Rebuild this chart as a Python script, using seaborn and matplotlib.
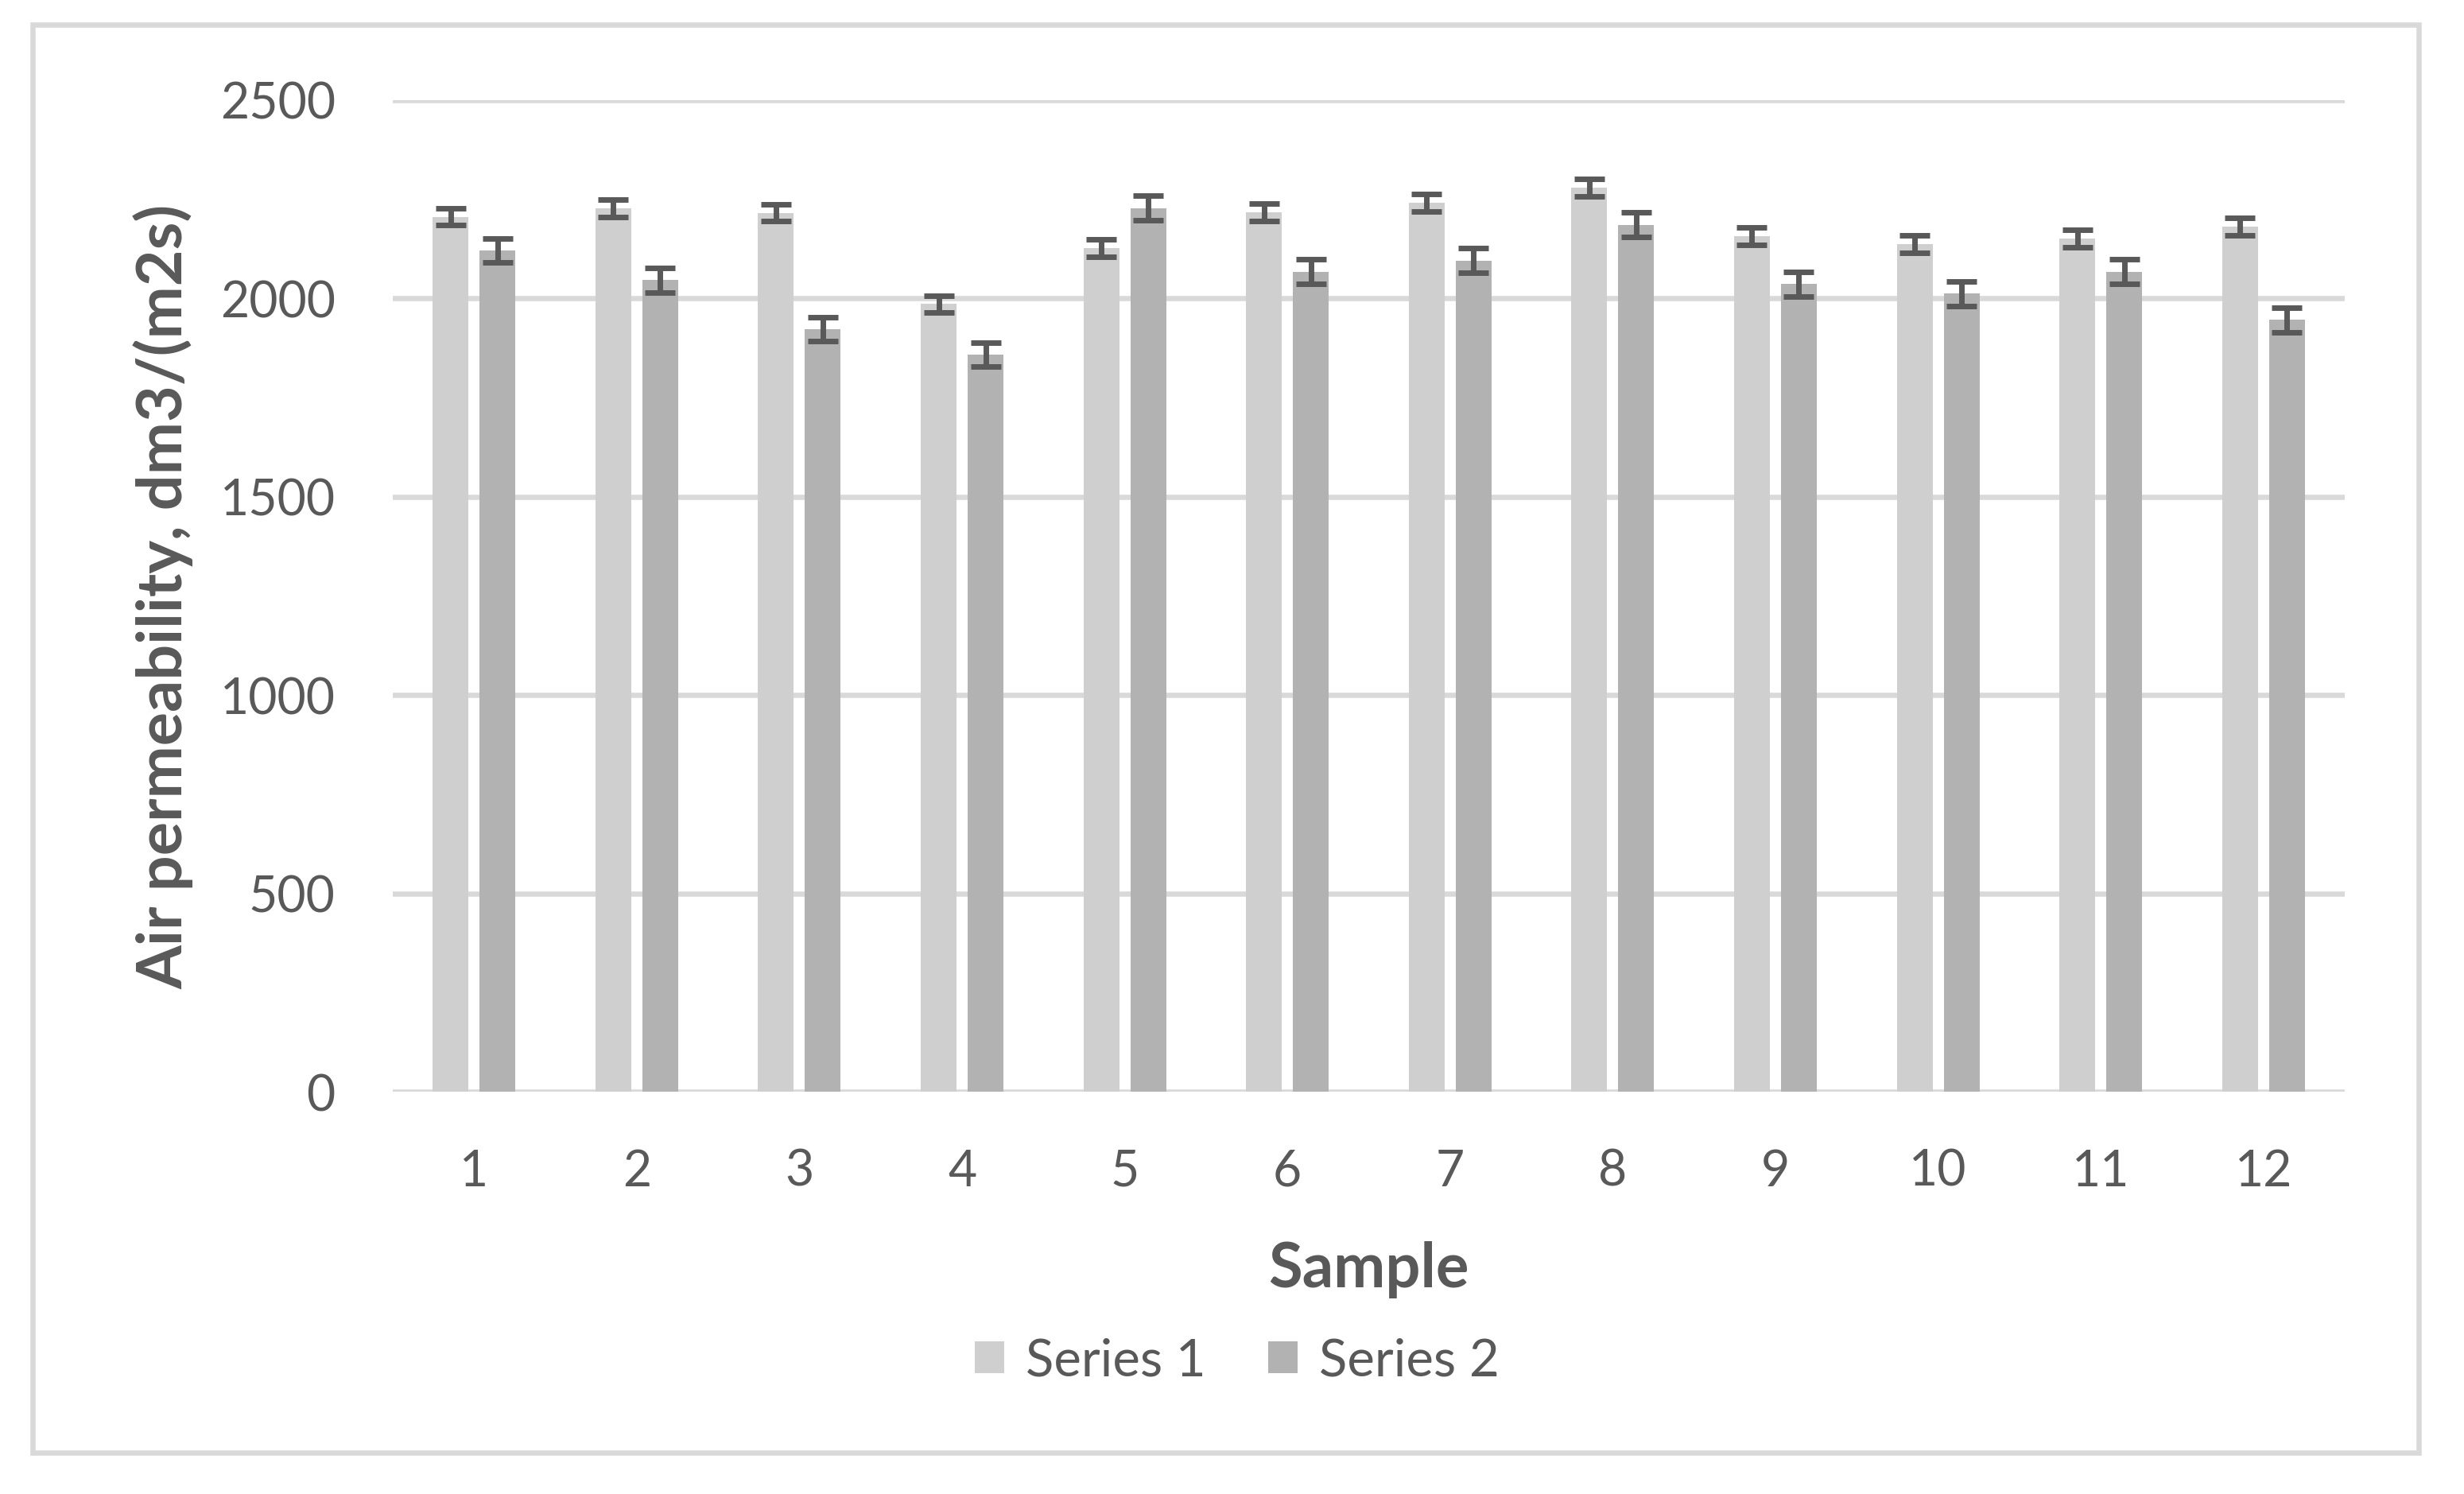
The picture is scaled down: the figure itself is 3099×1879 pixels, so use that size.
import matplotlib
matplotlib.use("Agg")
import matplotlib.pyplot as plt
import matplotlib.patches as mpatches
import numpy as np
import pandas as pd
import seaborn as sns

# Data
samples = [str(i) for i in range(1, 13)]
series_names = ["Series 1", "Series 2"]
series1 = [2206, 2228, 2216, 1986, 2128, 2218, 2242, 2279, 2158, 2138, 2152, 2182]
series2 = [2122, 2046, 1922, 1858, 2228, 2068, 2096, 2186, 2036, 2012, 2068, 1946]
err1 = [21, 22, 21, 21, 22, 22, 22, 22, 22, 22, 22, 22]
err2 = [30, 31, 30, 30, 31, 31, 31, 31, 31, 31, 31, 31]

# Long table for seaborn
df = pd.DataFrame({
    "Sample": samples * 2,
    "Value": series1 + series2,
    "Series": [series_names[0]] * len(samples) + [series_names[1]] * len(samples),
})

TEXT = "#595959"
GRID = "#D9D9D9"
COLORS = ["#D0CFD0", "#B2B2B2"]

sns.set_style("white")
plt.rcParams["font.family"] = ["Lato", "DejaVu Sans"]

fig = plt.figure(figsize=(30.99, 18.795), dpi=100)
ax = fig.add_axes([0.1594, 0.2691, 0.7922, 0.6636])

sns.barplot(data=df, x="Sample", y="Value", hue="Series", palette=COLORS,
            width=0.577, gap=0.237, errorbar=None, saturation=1,
            linewidth=0, ax=ax, zorder=2)

# Custom error bars on top of each bar
for container, errs in zip(ax.containers, [err1, err2]):
    xs = [p.get_x() + p.get_width() / 2 for p in container.patches]
    hs = [p.get_height() for p in container.patches]
    ax.errorbar(xs, hs, yerr=errs, fmt="none", ecolor=TEXT,
                elinewidth=5, capsize=14, capthick=5, zorder=3)

ax.set_ylim(0, 2500)
ax.set_xlim(-0.5, 11.5)
ax.set_yticks(np.arange(0, 2501, 500))
ax.yaxis.grid(True, color=GRID, linewidth=4.7)
ax.set_axisbelow(True)
for s in ax.spines.values():
    s.set_visible(False)
ax.tick_params(axis="both", length=0, labelsize=45, labelcolor=TEXT)
ax.tick_params(axis="y", pad=52)
ax.tick_params(axis="x", pad=51)

ax.set_xlabel("Sample", fontsize=56, fontweight="bold", color=TEXT)
ax.set_ylabel("Air permeability, dm3/(m2s)", fontsize=57, fontweight="bold", color=TEXT)
ax.xaxis.set_label_coords(0.5, -0.15)
ax.yaxis.set_label_coords(-0.102, 0.5)

sns.move_legend(ax, "center", bbox_to_anchor=(0.4326, -0.271), ncol=2,
                frameon=False, title=None, fontsize=47,
                handlelength=0.56, handleheight=0.56, handletextpad=0.42,
                columnspacing=1.2, labelcolor=TEXT)

# Light grey chart border
fig.patches.append(mpatches.Rectangle((0.0132, 0.0277), 0.9684, 0.9553,
                                      transform=fig.transFigure, fill=False,
                                      edgecolor=GRID, linewidth=4.7))

fig.savefig("out.png", dpi=100)
